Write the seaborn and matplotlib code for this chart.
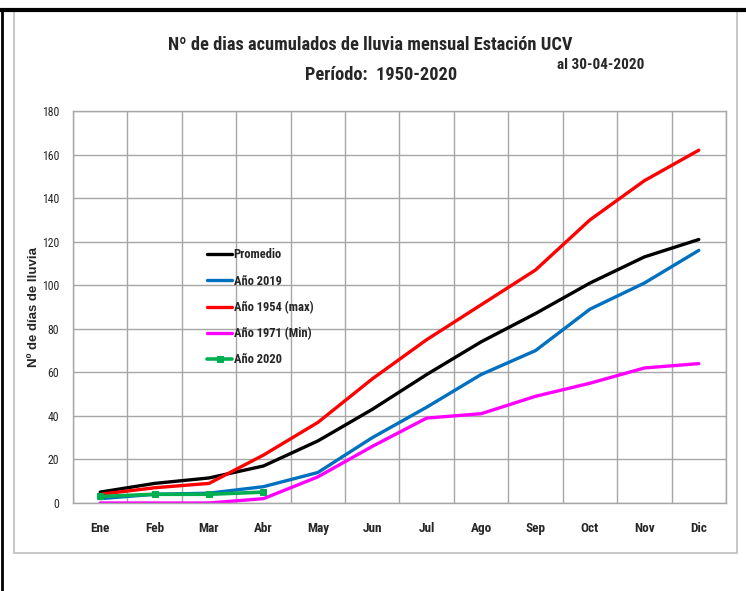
import matplotlib
matplotlib.use("Agg")
import matplotlib.pyplot as plt
from matplotlib import font_manager
from matplotlib.patches import Rectangle
from matplotlib.lines import Line2D
import seaborn as sns
import pandas as pd

meses = ["Ene", "Feb", "Mar", "Abr", "May", "Jun", "Jul", "Ago", "Sep", "Oct", "Nov", "Dic"]
promedio = [5, 9, 11.5, 17, 28.5, 43, 59, 74, 87, 101, 113, 121]
anio_2019 = [2, 4, 4.5, 7.5, 14, 30, 44, 59, 70, 89, 101, 116]
anio_1954 = [4, 7, 9, 22, 37, 57, 75, 91, 107, 130, 148, 162]
anio_1971 = [0, 0, 0, 2, 12, 26, 39, 41, 49, 55, 62, 64]
meses_2020 = ["Ene", "Feb", "Mar", "Abr"]
anio_2020 = [3, 4, 4, 5]
y_ticks = [0, 20, 40, 60, 80, 100, 120, 140, 160, 180]

sns.set_theme(style="white")
avail = {f.name for f in font_manager.fontManager.ttflist}
narrow = next((f for f in ["Liberation Sans Narrow", "Roboto Condensed", "Open Sans Condensed", "DejaVu Sans"] if f in avail), "DejaVu Sans")
arial = next((f for f in ["Liberation Sans", "Arimo", "DejaVu Sans"] if f in avail), "DejaVu Sans")
plt.rcParams["font.family"] = [narrow, "DejaVu Sans"]

fig = plt.figure(figsize=(7.46, 5.91), dpi=100)
fig.patch.set_facecolor("white")

# outer decorations
fig.add_artist(Line2D([0, 1], [1 - 10/591, 1 - 10/591], color="black", lw=3, transform=fig.transFigure))
fig.add_artist(Line2D([1.5/746, 1.5/746], [0, 1 - 10/591], color="black", lw=2, transform=fig.transFigure))
fig.add_artist(Rectangle((14/746, 1 - 553/591), (737-14)/746, (553-11)/591, transform=fig.transFigure,
                         fill=False, edgecolor="#bfbfbf", lw=1.2))

ax = fig.add_axes([73/746, 1 - 503/591, (726-73)/746, (503-111)/591])

x_all = list(range(len(meses)))
series = [
    ("Promedio", promedio, "#000000"),
    ("Año 2019", anio_2019, "#0070C0"),
    ("Año 1954 (max)", anio_1954, "#FF0000"),
    ("Año 1971 (Min)", anio_1971, "#FF00FF"),
]
for name, vals, col in series:
    df = pd.DataFrame({"x": x_all, "y": vals})
    sns.lineplot(data=df, x="x", y="y", ax=ax, color=col, lw=2.4, label=name)

df20 = pd.DataFrame({"x": [meses.index(m) for m in meses_2020], "y": anio_2020})
sns.lineplot(data=df20, x="x", y="y", ax=ax, color="#00B050", lw=2.6, marker="s",
             markersize=5, markeredgecolor="#00B050", label="Año 2020")

ax.set_xlim(-0.5, 11.5)
ax.set_ylim(0, 180)
ax.set_yticks(y_ticks)
ax.set_yticklabels([str(v) for v in y_ticks], fontsize=8.5)
ax.set_xticks(x_all)
ax.set_xticklabels(meses, fontsize=9.5, fontweight="bold")
ax.grid(False)
for v in y_ticks:
    ax.axhline(v, color="#a6a6a6", lw=1, zorder=0)
for i in range(13):
    ax.axvline(i - 0.5, color="#a6a6a6", lw=1, zorder=0)
for s in ax.spines.values():
    s.set_color("#a6a6a6")
    s.set_linewidth(1)
ax.tick_params(axis="x", length=0, pad=14)
ax.tick_params(axis="y", length=0, pad=10)
ax.set_xlabel("")
ax.set_ylabel("Nº de días de lluvia", fontsize=9.5, fontweight="bold",
              fontfamily=[arial, "DejaVu Sans"], labelpad=1)

leg = ax.legend(loc="upper left", bbox_to_anchor=(0.198, 0.662), frameon=False, fontsize=9,
                handlelength=2.0, handletextpad=0.1, labelspacing=1.05, borderaxespad=0)
for t in leg.get_texts():
    t.set_fontweight("bold")

fig.text(370/746, 1 - 45/591, "Nº de dias acumulados de lluvia mensual Estación UCV", ha="center", va="center",
         fontsize=13.2, fontweight="bold")
fig.text(381/746, 1 - 75/591, "Período:  1950-2020", ha="center", va="center", fontsize=13.2, fontweight="bold")
fig.text(601/746, 1 - 65/591, "al 30-04-2020", ha="center", va="center", fontsize=11, fontweight="bold")

fig.savefig("out.png", dpi=100, facecolor="white")
